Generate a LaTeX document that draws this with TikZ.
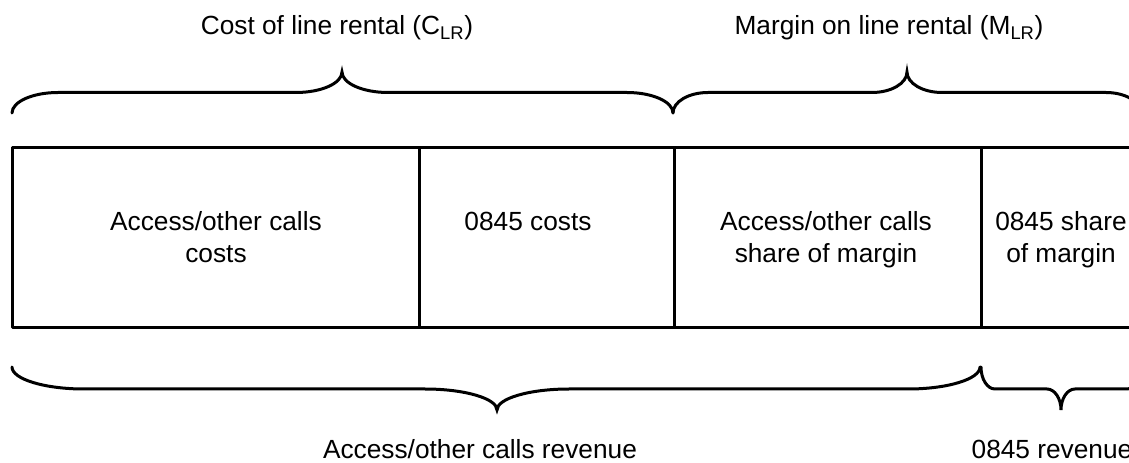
\documentclass[tikz,border=0pt]{standalone}
\usepackage{fontspec}
\setmainfont{Liberation Sans}
\begin{document}
\begin{tikzpicture}[x=0.75pt,y=-0.75pt,
  lbl/.style={font=\fontsize{19.7}{24}\selectfont, inner sep=0pt, align=center, anchor=base},
  ln/.style={line width=2.25pt, line join=round},
  brc/.style={line width=2.25pt, line cap=round}]
\useasboundingbox (0,0) rectangle (1129,463);
\clip (0,0) rectangle (1129,463);
% box
\draw[ln] (12,148) rectangle (1141,328);
\coordinate (d1t) at (419,148); \coordinate (d1b) at (419,328);
\coordinate (d2t) at (674,148); \coordinate (d2b) at (674,328);
\coordinate (d3t) at (981,148); \coordinate (d3b) at (981,328);
\draw[ln] (d1t) -- (d1b);
\draw[ln] (d2t) -- (d2b);
\draw[ln] (d3t) -- (d3b);
% cell texts (base = last line baseline)
\node[lbl] (c1) at (216,263) {Access/other calls\\costs};
\node[lbl] (c2) at (528,231) {0845 costs};
\node[lbl] (c3) at (826,263) {Access/other calls\\share of margin};
\node[lbl] (c4) at (1061,263) {0845 share\\of margin};
% top braces
\draw[brc] (12,113) .. controls (12,101.7) and (32.7,92.5) .. (58,92.5) -- (296,92.5)
  .. controls (321.3,92.5) and (342,83.3) .. (342,72)
  .. controls (342,83.3) and (362.7,92.5) .. (388,92.5) -- (627,92.5)
  .. controls (652.3,92.5) and (673,101.7) .. (673,113);
\draw[brc] (673,113) .. controls (673,101.7) and (688.75,92.5) .. (708,92.5) -- (872,92.5)
  .. controls (891.25,92.5) and (907,83.3) .. (907,72)
  .. controls (907,83.3) and (922.75,92.5) .. (942,92.5) -- (1106,92.5)
  .. controls (1125.25,92.5) and (1141,101.7) .. (1141,113);
% bottom braces
\draw[brc] (12,367) .. controls (12,379.1) and (44.4,389) .. (84,389) -- (425,389)
  .. controls (464.6,389) and (497,398.45) .. (497,410)
  .. controls (497,398.45) and (529.4,389) .. (569,389) -- (908,389)
  .. controls (947.6,389) and (980,379.1) .. (980,367);
\draw[brc] (981,367) .. controls (981,379.1) and (987.3,389) .. (995,389) -- (1047,389)
  .. controls (1054.7,389) and (1061,398.45) .. (1061,410)
  .. controls (1061,398.45) and (1067.3,389) .. (1075,389) -- (1127,389)
  .. controls (1134.7,389) and (1141,379.1) .. (1141,367);
% labels
\node[lbl] (t1) at (337,35) {Cost of line rental (C\textsubscript{LR})};
\node[lbl] (t2) at (889,35) {Margin on line rental (M\textsubscript{LR})};
\node[lbl, text depth=0pt] (b1) at (480,459) {Access/other calls revenue};
\node[lbl, text depth=0pt] (b2) at (1052,459) {0845 revenue};
\end{tikzpicture}
\end{document}
